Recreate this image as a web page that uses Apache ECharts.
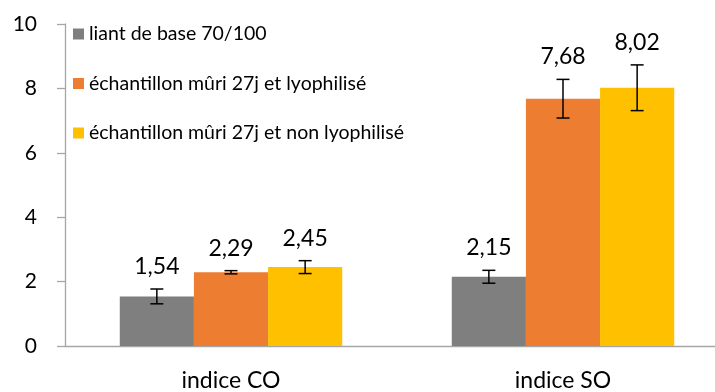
<!DOCTYPE html>
<html>
<head>
<meta charset="utf-8">
<script src="https://cdn.jsdelivr.net/npm/echarts@6/dist/echarts.min.js"></script>
<style>
  html, body { margin: 0; padding: 0; background: #fff; }
  #chart { width: 715px; height: 392px; }
</style>
</head>
<body>
<div id="chart"></div>
<script>
// Indices CO et SO : liant de base vs échantillons mûris 27 jours
var categories = ['indice CO', 'indice SO'];
var seriesNames = [
  'liant de base 70/100',
  'échantillon mûri 27j et lyophilisé',
  'échantillon mûri 27j et non lyophilisé'
];
var liantBase = [1.54, 2.15];
var lyophilise = [2.29, 7.68];
var nonLyophilise = [2.45, 8.02];
// demi-largeur des barres d'erreur
var errLiantBase = [0.23, 0.20];
var errLyophilise = [0.05, 0.60];
var errNonLyophilise = [0.20, 0.71];
var yTicks = [0, 2, 4, 6, 8, 10];

var FONT = 'Lato, "Open Sans", sans-serif';
var colors = ['#7f7f7f', '#ed7d31', '#ffc000'];
var values = [liantBase, lyophilise, nonLyophilise];
var errors = [errLiantBase, errLyophilise, errNonLyophilise];
var CAT_GAP = 0.33;

var chart = echarts.init(document.getElementById('chart'), null, { renderer: 'canvas' });

var series = [];
values.forEach(function (vals, k) {
  series.push({
    name: seriesNames[k],
    type: 'bar',
    data: vals,
    barGap: '0%',
    barCategoryGap: (CAT_GAP * 100) + '%',
    itemStyle: { color: colors[k] },
    animation: false
  });
});

// barres d'erreur et étiquettes de valeur, posées au-dessus de la barre d'erreur
values.forEach(function (vals, k) {
  series.push({
    type: 'custom',
    name: seriesNames[k] + ' (erreur)',
    animation: false,
    z: 5,
    data: vals.map(function (v, i) { return [i, v, errors[k][i]]; }),
    renderItem: function (params, api) {
      var cat = api.value(0), v = api.value(1), e = api.value(2);
      var band = api.size([1, 0])[0];
      var bw = band * (1 - CAT_GAP) / 3;
      var x = api.coord([cat, v])[0] + (k - 1) * bw;
      var yHi = api.coord([cat, v + e])[1];
      var yLo = api.coord([cat, v - e])[1];
      var cap = 6.5;
      var line = { stroke: '#000', lineWidth: 1.5 };
      return {
        type: 'group',
        children: [
          { type: 'line', shape: { x1: x, y1: yHi, x2: x, y2: yLo }, style: line },
          { type: 'line', shape: { x1: x - cap, y1: yHi, x2: x + cap, y2: yHi }, style: line },
          { type: 'line', shape: { x1: x - cap, y1: yLo, x2: x + cap, y2: yLo }, style: line },
          {
            type: 'text',
            style: {
              text: v.toFixed(2).replace('.', ','),
              x: x, y: yHi - 11,
              textAlign: 'center', textVerticalAlign: 'bottom',
              font: '23px ' + FONT, fill: '#000'
            }
          }
        ]
      };
    }
  });
});

// la zone de tracé déborde à droite : la seconde catégorie est rognée par le bord
chart.setOption({
  animation: false,
  backgroundColor: '#fff',
  grid: {
    left: 65, width: 664, top: 24, bottom: 46,
    containLabel: false,
    outerBoundsMode: 'none'
  },
  legend: {
    data: seriesNames,
    orient: 'vertical',
    left: 73, top: 23,
    padding: 0,
    itemWidth: 11, itemHeight: 11,
    itemGap: 27.5,
    icon: 'rect',
    textStyle: { fontFamily: FONT, fontSize: 19.5, color: '#000', lineHeight: 22 }
  },
  xAxis: {
    type: 'category',
    data: categories,
    axisLine: { lineStyle: { color: '#a6a6a6', width: 1.3 } },
    axisTick: { show: false },
    axisLabel: { fontFamily: FONT, fontSize: 23, color: '#000', margin: 23 }
  },
  yAxis: {
    type: 'value',
    min: yTicks[0], max: yTicks[yTicks.length - 1], interval: yTicks[1] - yTicks[0],
    axisLine: { show: true, lineStyle: { color: '#a6a6a6', width: 1.3 } },
    axisTick: { show: true, length: 8, lineStyle: { color: '#a6a6a6', width: 1.3 } },
    splitLine: { show: false },
    axisLabel: { fontFamily: FONT, fontSize: 21, color: '#000', margin: 28 }
  },
  series: series
});
</script>
</body>
</html>
